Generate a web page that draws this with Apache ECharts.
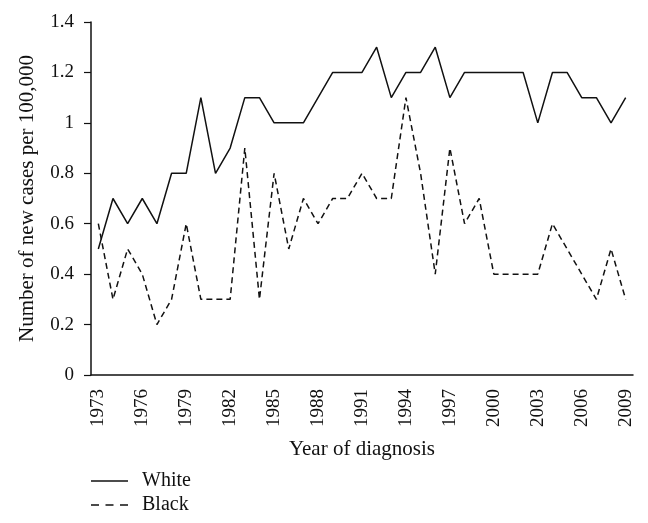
<!DOCTYPE html>
<html>
<head>
<meta charset="utf-8">
<script src="https://cdn.jsdelivr.net/npm/echarts@6/dist/echarts.min.js"></script>
<style>
  html, body { margin: 0; padding: 0; background: #fff; }
  #main { width: 648px; height: 523px; }
</style>
</head>
<body>
<div id="main"></div>
<script>
// years 1973 - 2009
var years = []
for (var y = 1973; y <= 2009; y++) years.push(String(y))

var white = [0.5, 0.7, 0.6, 0.7, 0.6, 0.8, 0.8, 1.1, 0.8, 0.9,
  1.1, 1.1, 1.0, 1.0, 1.0, 1.1, 1.2, 1.2, 1.2, 1.3,
  1.1, 1.2, 1.2, 1.3, 1.1, 1.2, 1.2, 1.2, 1.2, 1.2,
  1.0, 1.2, 1.2, 1.1, 1.1, 1.0, 1.1]
var black = [0.6, 0.3, 0.5, 0.4, 0.2, 0.3, 0.6, 0.3, 0.3, 0.3,
  0.9, 0.3, 0.8, 0.5, 0.7, 0.6, 0.7, 0.7, 0.8, 0.7,
  0.7, 1.1, 0.8, 0.4, 0.9, 0.6, 0.7, 0.4, 0.4, 0.4,
  0.4, 0.6, 0.5, 0.4, 0.3, 0.5, 0.3]

var font = 'Liberation Serif'
var myChart = echarts.init(document.getElementById('main'))
myChart.setOption({
  animation: false,
  textStyle: { fontFamily: font, color: '#111' },
  grid: { left: 91, right: 15, top: 22, bottom: 148 },
  legend: {
    orient: 'vertical',
    left: 86,
    top: 466,
    itemWidth: 37,
    itemHeight: 1.5,
    itemGap: 4,
    textStyle: { fontFamily: font, fontSize: 20, lineHeight: 20, color: '#111', padding: [0, 0, 0, 9] },
    data: [
      { name: 'White', icon: 'path://M0,0H37V1.5H0Z' },
      { name: 'Black', icon: 'path://M0,0H8V1.5H0Z M14.5,0H22.5V1.5H14.5Z M29,0H37V1.5H29Z' }
    ]
  },
  xAxis: {
    type: 'category',
    data: years,
    boundaryGap: true,
    name: 'Year of diagnosis',
    nameLocation: 'middle',
    nameGap: 64,
    nameTextStyle: { fontFamily: font, fontSize: 21, color: '#111' },
    axisLine: { lineStyle: { color: '#111', width: 1.5 } },
    axisTick: { interval: 0, length: 6, lineStyle: { color: '#111', width: 1.2 } },
    axisLabel: { interval: 2, rotate: 90, margin: 14, fontSize: 19, color: '#111', fontFamily: font }
  },
  yAxis: {
    type: 'value',
    min: 0,
    max: 1.4,
    interval: 0.2,
    name: 'Number of new cases per 100,000',
    nameLocation: 'middle',
    nameGap: 53,
    nameTextStyle: { fontFamily: font, fontSize: 21, color: '#111' },
    splitLine: { show: false },
    axisLine: { show: true, lineStyle: { color: '#111', width: 1.5 } },
    axisTick: { show: true, length: 7, lineStyle: { color: '#111', width: 1.2 } },
    axisLabel: { margin: 17, fontSize: 19, color: '#111', fontFamily: font }
  },
  series: [
    {
      name: 'White',
      type: 'line',
      data: white,
      symbol: 'none',
      lineStyle: { color: '#111', width: 1.5, type: 'solid' },
      itemStyle: { color: '#111' }
    },
    {
      name: 'Black',
      type: 'line',
      data: black,
      symbol: 'none',
      lineStyle: { color: '#111', width: 1.5, type: [6, 4] },
      itemStyle: { color: '#111' }
    }
  ]
})
</script>
</body>
</html>
